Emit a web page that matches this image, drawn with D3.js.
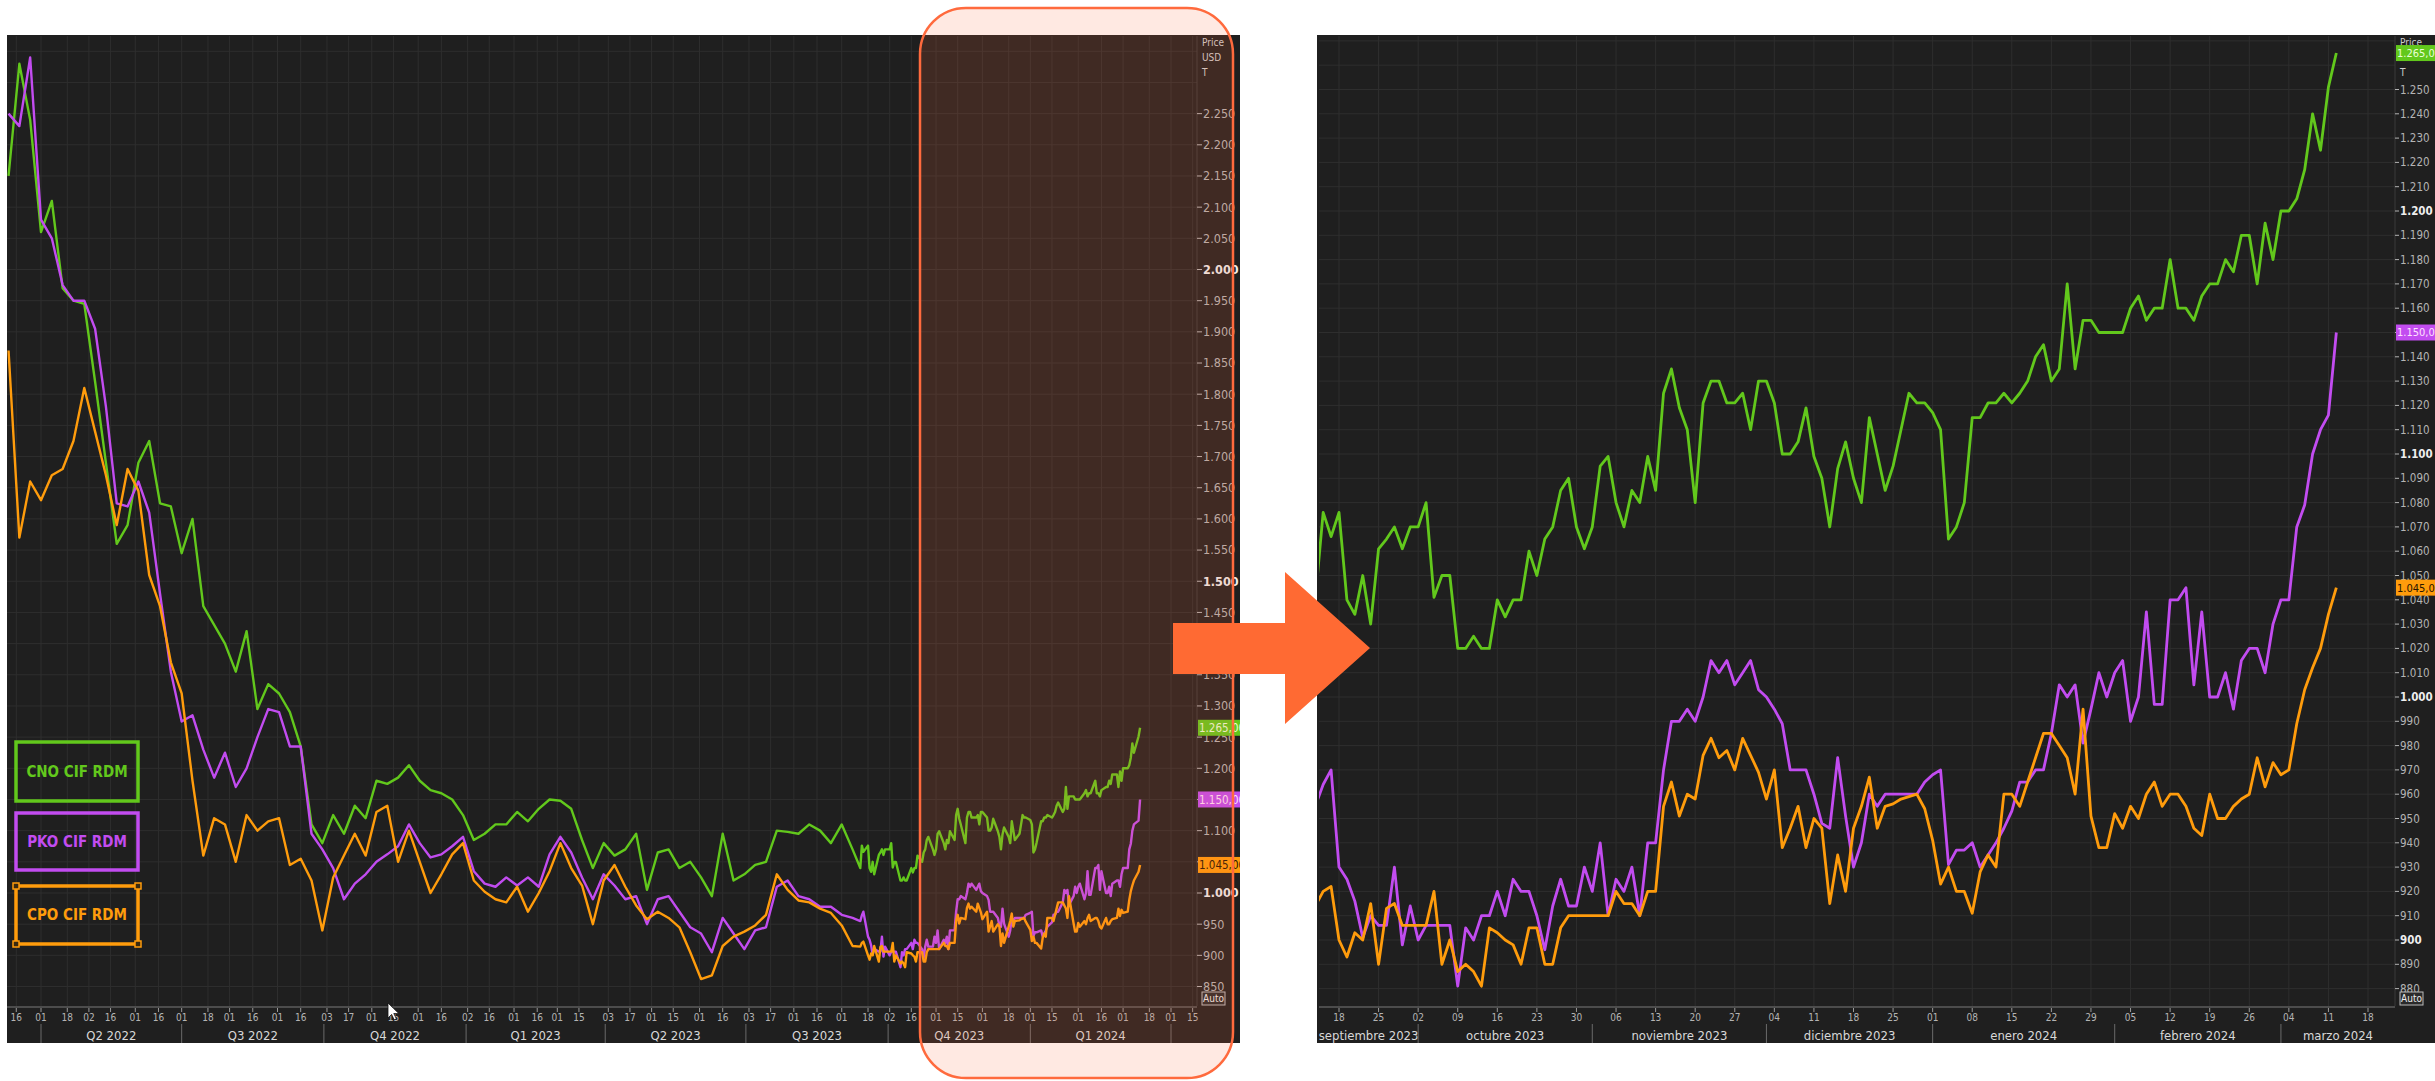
<!DOCTYPE html>
<html><head><meta charset="utf-8">
<script src="https://cdn.jsdelivr.net/npm/d3@7"></script>
<style>
html,body{margin:0;padding:0;background:#fff;}
svg{display:block;}
text{font-family:'DejaVu Sans Condensed','Liberation Sans Narrow','Roboto Condensed','DejaVu Sans',sans-serif;font-stretch:condensed;}
</style></head><body>
<svg id="chart" width="2435" height="1081"></svg>
<script>
// ---------------- DATA ----------------
const seriesNames = ["CNO CIF RDM", "PKO CIF RDM", "CPO CIF RDM"];
const seriesColors = ["#62c81c", "#c24cf0", "#ff9c0c"];

// weekly history (Fridays from 2022-03-11 to 2023-09-08), USD/T
const weeklyStart = "2022-03-11";
const cnoWeekly = [2150,2330,2240,2060,2110,1970,1950,1945,1820,1690,
  1560,1590,1690,1725,1625,1620,1545,1600,1460,1430,
  1400,1355,1420,1295,1335,1320,1290,1235,1110,1080,
  1125,1095,1140,1120,1180,1175,1185,1205,1180,1165,
  1160,1150,1125,1085,1095,1110,1110,1130,1115,1135,
  1150,1148,1135,1085,1040,1080,1060,
  1070,1095,1005,1065,1070,1040,1050,1025,995,1095,1020,1030,1045,1050,1100,1098,1095,1110,1100,1080,1110,1070];
const pkoWeekly = [2250,2230,2340,2080,2050,1975,1950,1950,1905,1780,
  1625,1620,1660,1610,1480,1355,1275,1285,1230,1185,
  1225,1170,1200,1250,1295,1290,1235,1235,1095,1070,
  1040,990,1015,1030,1050,1062,1075,1110,1080,1057,
  1062,1075,1090,1035,1015,1010,1025,1012,1025,1010,
  1062,1090,1065,1025,990,1030,1012,
  990,995,950,990,995,970,945,935,905,960,935,910,940,945,1010,1020,995,990,978,978,965,960];
const cpoWeekly = [1870,1570,1660,1630,1670,1680,1725,1810,1740,1670,
  1590,1680,1645,1510,1460,1370,1320,1180,1060,1120,
  1110,1050,1125,1100,1115,1120,1045,1055,1020,940,
  1025,1060,1095,1060,1130,1140,1050,1100,1050,1000,
  1030,1062,1080,1020,1002,990,985,1010,970,1000,
  1035,1080,1040,1012,950,1020,1045,
  1010,980,958,970,960,945,905,862,868,915,930,938,948,965,1030,1005,988,985,975,968,948,915];

// daily (weekdays from 2023-09-13 to 2024-03-12), USD/T
const dailyStart = "2023-09-13";
const cnoDaily = [1040,1076,1066,1076,1040,1034,1050,1030,1061,1065,
  1070,1061,1070,1070,1080,1041,1050,1050,1020,1020,
  1025,1020,1020,1040,1033,1040,1040,1060,1050,1065,
  1070,1085,1090,1070,1061,1070,1095,1099,1080,1070,
  1085,1080,1099,1085,1125,1135,1119,1110,1080,1121,
  1130,1130,1121,1121,1125,1110,1130,1130,1121,1100,
  1100,1105,1119,1099,1090,1070,1094,1105,1090,1080,
  1115,1100,1085,1095,1110,1125,1121,1121,1117,1110,
  1065,1070,1080,1115,1115,1121,1121,1125,1121,1125,
  1130,1140,1145,1130,1135,1170,1135,1155,1155,1150,
  1150,1150,1150,1160,1165,1155,1160,1160,1180,1160,
  1160,1155,1165,1170,1170,1180,1175,1190,1190,1170,
  1195,1180,1200,1200,1205,1217,1240,1225,1251,1265];
const pkoDaily = [955,964,970,930,925,916,901,910,906,906,
  930,898,914,900,906,906,906,906,881,905,
  900,910,910,920,910,925,920,920,910,896,
  914,925,914,914,930,920,940,910,925,920,
  930,910,940,940,970,990,990,995,990,1000,
  1015,1010,1015,1005,1010,1015,1003,1000,995,989,
  970,970,970,960,948,946,975,951,930,940,
  960,955,960,960,960,960,960,965,968,970,
  931,937,937,940,930,935,940,946,953,965,
  965,970,970,985,1005,1000,1005,981,995,1010,
  1000,1010,1015,990,1000,1035,997,997,1040,1040,
  1045,1005,1035,1000,1000,1010,995,1015,1020,1020,
  1010,1030,1040,1040,1070,1079,1100,1110,1116,1150];
const cpoDaily = [914,920,922,900,893,903,900,915,890,913,
  915,906,906,906,906,920,890,900,887,890,
  887,881,905,903,900,898,890,905,905,890,
  890,905,910,910,910,910,910,910,920,915,
  915,910,920,920,955,965,951,960,958,976,
  983,975,978,970,983,976,969,958,970,938,
  946,955,938,950,946,915,935,920,946,955,
  967,946,955,956,958,959,960,954,941,923,
  930,920,920,911,928,935,930,960,960,955,
  965,975,985,985,980,975,960,995,951,938,
  938,952,946,955,950,960,965,955,960,960,
  955,946,943,960,950,950,955,958,960,975,
  963,973,968,970,989,1003,1012,1020,1034,1045];

// axes
const leftYTicks = [850,900,950,1000,1050,1100,1150,1200,1250,1300,1350,1400,1450,1500,1550,1600,1650,1700,1750,1800,1850,1900,1950,2000,2050,2100,2150,2200,2250];
const leftYBold = [1000,1500,2000];
const rightYTicks = [880,890,900,910,920,930,940,950,960,970,980,990,1000,1010,1020,1030,1040,1050,1060,1070,1080,1090,1100,1110,1120,1130,1140,1150,1160,1170,1180,1190,1200,1210,1220,1230,1240,1250];
const rightYBold = [900,1000,1100,1200];
const leftTickDates = ["2022-03-16","2022-04-01","2022-04-18","2022-05-02","2022-05-16","2022-06-01","2022-06-16","2022-07-01","2022-07-18","2022-08-01","2022-08-16","2022-09-01","2022-09-16","2022-10-03","2022-10-17","2022-11-01","2022-11-15","2022-12-01","2022-12-16","2023-01-02","2023-01-16","2023-02-01","2023-02-16","2023-03-01","2023-03-15","2023-04-03","2023-04-17","2023-05-01","2023-05-15","2023-06-01","2023-06-16","2023-07-03","2023-07-17","2023-08-01","2023-08-16","2023-09-01","2023-09-18","2023-10-02","2023-10-16","2023-11-01","2023-11-15","2023-12-01","2023-12-18","2024-01-01","2024-01-15","2024-02-01","2024-02-16","2024-03-01","2024-03-18","2024-04-01","2024-04-15"];
const quarterStarts = ["2022-01-01","2022-04-01","2022-07-01","2022-10-01","2023-01-01","2023-04-01","2023-07-01","2023-10-01","2024-01-01","2024-04-01","2024-07-01"];
const quarterLabels = ["Q1 2022","Q2 2022","Q3 2022","Q4 2022","Q1 2023","Q2 2023","Q3 2023","Q4 2023","Q1 2024","Q2 2024"];
const rightTickDates = ["2023-09-18","2023-09-25","2023-10-02","2023-10-09","2023-10-16","2023-10-23","2023-10-30","2023-11-06","2023-11-13","2023-11-20","2023-11-27","2023-12-04","2023-12-11","2023-12-18","2023-12-25","2024-01-01","2024-01-08","2024-01-15","2024-01-22","2024-01-29","2024-02-05","2024-02-12","2024-02-19","2024-02-26","2024-03-04","2024-03-11","2024-03-18"];
const monthStarts = ["2023-09-01","2023-10-01","2023-11-01","2023-12-01","2024-01-01","2024-02-01","2024-03-01","2024-04-01"];
const monthLabels = ["septiembre 2023","octubre 2023","noviembre 2023","diciembre 2023","enero 2024","febrero 2024","marzo 2024"];

// ---------------- HELPERS ----------------
const parse = d3.utcParse("%Y-%m-%d");
const loc = d3.formatLocale({decimal: ",", thousands: ".", grouping: [3], currency: ["", ""]});
const fInt = loc.format(",.0f");
const fTag = loc.format(",.2f");
const fDay = d3.utcFormat("%d");
const isWd = d => { const w = d.getUTCDay(); return w !== 0 && w !== 6; };
const dStart = parse(dailyStart);
function wIdx(d) {
  let n = 0;
  if (d >= dStart) { for (let t = dStart; t < d; t = d3.utcDay.offset(t, 1)) if (isWd(t)) n++; }
  else { for (let t = d; t < dStart; t = d3.utcDay.offset(t, 1)) if (isWd(t)) n--; }
  return n;
}
const dailyDates = [];
for (let t = dStart; dailyDates.length < cnoDaily.length; t = d3.utcDay.offset(t, 1)) if (isWd(t)) dailyDates.push(t);
const weeklyDates = cnoWeekly.map((_, i) => d3.utcDay.offset(parse(weeklyStart), 7 * i));

const weekly = [cnoWeekly, pkoWeekly, cpoWeekly];
const daily = [cnoDaily, pkoDaily, cpoDaily];

const svg = d3.select("#chart");
const PANEL = "#1f1f1f", GRID = "#2e2e2e", LBL = "#b4b4b4";

// ================= LEFT CHART =================
const L = {x0: 7, x1: 1197, y0: 36, y1: 1006, panelR: 1240, top: 35, bot: 1043};
const xL = d3.scaleUtc().domain([parse("2022-04-01"), parse("2024-04-01")]).range([41, 1171]);
const yL = d3.scaleLinear().domain([1000, 2000]).range([893, 269.5]);

const gL = svg.append("g");
gL.append("clipPath").attr("id", "clipLPanel").append("rect")
  .attr("x", L.x0).attr("y", L.top).attr("width", L.panelR - L.x0).attr("height", L.bot - L.top);
gL.append("clipPath").attr("id", "clipLPlot").append("rect")
  .attr("x", L.x0).attr("y", L.y0).attr("width", L.x1 - L.x0).attr("height", L.y1 - L.y0);
const gLp = gL.append("g").attr("clip-path", "url(#clipLPanel)");
gLp.append("rect").attr("x", L.x0).attr("y", L.top).attr("width", L.panelR - L.x0).attr("height", L.bot - L.top).attr("fill", PANEL);

// grid
const gLgrid = gLp.append("g").attr("clip-path", "url(#clipLPlot)");
gLgrid.selectAll("line.h").data(d3.range(800, 2400, 50)).join("line")
  .attr("x1", L.x0).attr("x2", L.x1).attr("y1", d => yL(d)).attr("y2", d => yL(d))
  .attr("stroke", GRID).attr("stroke-width", 1);
gLgrid.selectAll("line.v").data(leftTickDates).join("line")
  .attr("x1", d => xL(parse(d))).attr("x2", d => xL(parse(d))).attr("y1", L.y0).attr("y2", L.y1)
  .attr("stroke", GRID).attr("stroke-width", 1);

// lines
const lineL = d3.line().x(d => xL(d[0])).y(d => yL(d[1]));
const gLines = gLp.append("g").attr("clip-path", "url(#clipLPlot)");
[0, 1, 2].forEach(s => {
  const pts = weeklyDates.map((d, i) => [d, weekly[s][i]]).concat(dailyDates.map((d, i) => [d, daily[s][i]]));
  gLines.append("path").datum(pts).attr("d", lineL).attr("fill", "none")
    .attr("stroke", seriesColors[s]).attr("stroke-width", 2.4).attr("stroke-linejoin", "round");
});

// x axis
gLp.append("line").attr("x1", L.x0).attr("x2", L.x1).attr("y1", L.y1 + 1).attr("y2", L.y1 + 1).attr("stroke", "#4c4c4c").attr("stroke-width", 2);
gLp.selectAll("line.tk").data(leftTickDates).join("line")
  .attr("x1", d => xL(parse(d))).attr("x2", d => xL(parse(d))).attr("y1", L.y1 + 2).attr("y2", L.y1 + 6)
  .attr("stroke", "#9a9a9a");
gLp.selectAll("text.tk").data(leftTickDates).join("text")
  .attr("x", d => xL(parse(d))).attr("y", 1021).attr("text-anchor", "middle")
  .attr("font-size", 10).attr("fill", LBL).text(d => fDay(parse(d)));
quarterStarts.forEach((q, i) => {
  const xs = xL(parse(q));
  if (xs > L.x0 && xs < L.x1) gLp.append("line").attr("x1", xs).attr("x2", xs).attr("y1", 1024).attr("y2", L.bot).attr("stroke", "#6a6a6a");
  if (i < quarterLabels.length) {
    const a = Math.max(L.x0, xs), b = Math.min(L.x1, xL(parse(quarterStarts[i + 1])));
    if (b - a > 100) gLp.append("text").attr("x", (a + b) / 2).attr("y", 1040).attr("text-anchor", "middle")
      .attr("font-size", 13).attr("fill", "#d8d8d8").text(quarterLabels[i]);
  }
});

// y axis
gLp.append("line").attr("x1", L.x1).attr("x2", L.x1).attr("y1", L.y0).attr("y2", L.y1).attr("stroke", "#3a3a3a");
leftYTicks.forEach(v => {
  const y = yL(v), b = leftYBold.includes(v);
  gLp.append("line").attr("x1", L.x1).attr("x2", L.x1 + 5).attr("y1", y).attr("y2", y).attr("stroke", LBL);
  gLp.append("text").attr("x", L.x1 + 6).attr("y", y).attr("dy", "0.35em").attr("font-size", 12.5)
    .attr("font-weight", b ? "bold" : "normal").attr("fill", b ? "#eeeeee" : LBL).text(fInt(v));
});
["Price", "USD", "T"].forEach((t, i) => gLp.append("text").attr("x", L.x1 + 5).attr("y", 46 + 15 * i)
  .attr("font-size", 10).attr("fill", "#cfcfcf").text(t));
gLp.append("rect").attr("x", 1202).attr("y", 992).attr("width", 23).attr("height", 13).attr("fill", "#2a2a2a").attr("stroke", "#bbb");
gLp.append("text").attr("x", 1213.5).attr("y", 1002).attr("text-anchor", "middle").attr("font-size", 10).attr("fill", "#eee").text("Auto");

// last value tags
const tagText = ["#e9ffd6", "#ffe0ff", "#2a1600"];
[0, 1, 2].forEach(s => {
  const v = daily[s][daily[s].length - 1], y = yL(v);
  gLp.append("rect").attr("x", L.x1 + 1).attr("y", y - 8).attr("width", 50).attr("height", 16).attr("fill", seriesColors[s]);
  gLp.append("text").attr("x", L.x1 + 2).attr("y", y).attr("dy", "0.36em").attr("font-size", 11.5)
    .attr("fill", tagText[s]).text(fTag(v));
});

// legend boxes
const legBoxes = [[16, 742, 122, 59], [16, 813, 122, 57], [16, 886, 122, 58]];
legBoxes.forEach((b, s) => {
  gLp.append("rect").attr("x", b[0]).attr("y", b[1]).attr("width", b[2]).attr("height", b[3])
    .attr("fill", "none").attr("stroke", seriesColors[s]).attr("stroke-width", 3.5);
  gLp.append("text").attr("x", b[0] + b[2] / 2).attr("y", b[1] + b[3] / 2).attr("dy", "0.36em")
    .attr("text-anchor", "middle").attr("font-size", 15).attr("font-weight", "bold")
    .attr("fill", seriesColors[s]).text(seriesNames[s]);
});
{
  const b = legBoxes[2];
  [[b[0], b[1]], [b[0] + b[2], b[1]], [b[0], b[1] + b[3]], [b[0] + b[2], b[1] + b[3]]].forEach(p =>
    gLp.append("rect").attr("x", p[0] - 3).attr("y", p[1] - 3).attr("width", 6).attr("height", 6)
      .attr("fill", "#3a2a10").attr("stroke", seriesColors[2]).attr("stroke-width", 1.5));
}
// mouse cursor
gLp.append("path").attr("d", "M388,1003 l0,15 l3.6,-3.6 l2.6,5.4 l2.2,-1 l-2.6,-5.3 l5,0 z")
  .attr("fill", "#fff").attr("stroke", "#111").attr("stroke-width", 0.8);

// ================= RIGHT CHART =================
const R = {x0: 1319, x1: 2395, y0: 36, y1: 1006, panelL: 1317, panelR: 2435, top: 35, bot: 1043};
const xR = d3.scaleLinear().domain([3, 133]).range([1339, 2368]);
const yR = d3.scaleLinear().domain([1000, 1100]).range([697, 454]);

const gR = svg.append("g");
gR.append("clipPath").attr("id", "clipRPanel").append("rect")
  .attr("x", R.panelL).attr("y", R.top).attr("width", R.panelR - R.panelL).attr("height", R.bot - R.top);
gR.append("clipPath").attr("id", "clipRPlot").append("rect")
  .attr("x", R.x0).attr("y", R.y0).attr("width", R.x1 - R.x0).attr("height", R.y1 - R.y0);
const gRp = gR.append("g").attr("clip-path", "url(#clipRPanel)");
gRp.append("rect").attr("x", R.panelL).attr("y", R.top).attr("width", R.panelR - R.panelL).attr("height", R.bot - R.top).attr("fill", PANEL);

const gRgrid = gRp.append("g").attr("clip-path", "url(#clipRPlot)");
gRgrid.selectAll("line.h").data(d3.range(860, 1290, 10)).join("line")
  .attr("x1", R.x0).attr("x2", R.x1).attr("y1", d => yR(d)).attr("y2", d => yR(d))
  .attr("stroke", GRID).attr("stroke-width", 1);
gRgrid.selectAll("line.v").data(rightTickDates).join("line")
  .attr("x1", d => xR(wIdx(parse(d)))).attr("x2", d => xR(wIdx(parse(d)))).attr("y1", R.y0).attr("y2", R.y1)
  .attr("stroke", GRID).attr("stroke-width", 1);

const lineR = d3.line().x(d => xR(d[0])).y(d => yR(d[1]));
const gRlines = gRp.append("g").attr("clip-path", "url(#clipRPlot)");
[0, 1, 2].forEach(s => {
  gRlines.append("path").datum(daily[s].map((v, i) => [i, v])).attr("d", lineR).attr("fill", "none")
    .attr("stroke", seriesColors[s]).attr("stroke-width", 2.8).attr("stroke-linejoin", "round");
});

// x axis
gRp.append("line").attr("x1", R.x0).attr("x2", R.x1).attr("y1", R.y1 + 1).attr("y2", R.y1 + 1).attr("stroke", "#4c4c4c").attr("stroke-width", 2);
rightTickDates.forEach(d => {
  const x = xR(wIdx(parse(d)));
  gRp.append("line").attr("x1", x).attr("x2", x).attr("y1", R.y1 + 2).attr("y2", R.y1 + 6).attr("stroke", "#9a9a9a");
  gRp.append("text").attr("x", x).attr("y", 1021).attr("text-anchor", "middle").attr("font-size", 10).attr("fill", LBL).text(fDay(parse(d)));
});
monthLabels.forEach((m, i) => {
  const xs = xR(wIdx(parse(monthStarts[i]))), xe = xR(wIdx(parse(monthStarts[i + 1])));
  if (xs > R.x0 && xs < R.x1) gRp.append("line").attr("x1", xs).attr("x2", xs).attr("y1", 1024).attr("y2", R.bot).attr("stroke", "#6a6a6a");
  const a = Math.max(R.x0, xs), b = Math.min(R.x1, xe);
  gRp.append("text").attr("x", (a + b) / 2).attr("y", 1040).attr("text-anchor", "middle")
    .attr("font-size", 13).attr("fill", "#d8d8d8").text(m);
});

// y axis
gRp.append("line").attr("x1", R.x1).attr("x2", R.x1).attr("y1", R.y0).attr("y2", R.y1).attr("stroke", "#3a3a3a");
["Price", "USD", "T"].forEach((t, i) => gRp.append("text").attr("x", R.x1 + 5).attr("y", 46 + 15 * i)
  .attr("font-size", 10).attr("fill", "#cfcfcf").text(t));
rightYTicks.forEach(v => {
  const y = yR(v), b = rightYBold.includes(v);
  gRp.append("line").attr("x1", R.x1).attr("x2", R.x1 + 4).attr("y1", y).attr("y2", y).attr("stroke", LBL);
  gRp.append("text").attr("x", R.x1 + 5).attr("y", y).attr("dy", "0.35em").attr("font-size", 11.5)
    .attr("font-weight", b ? "bold" : "normal").attr("fill", b ? "#eeeeee" : LBL).text(fInt(v));
});
gRp.append("rect").attr("x", 2400).attr("y", 992).attr("width", 23).attr("height", 13).attr("fill", "#2a2a2a").attr("stroke", "#bbb");
gRp.append("text").attr("x", 2411.5).attr("y", 1002).attr("text-anchor", "middle").attr("font-size", 10).attr("fill", "#eee").text("Auto");
[0, 1, 2].forEach(s => {
  const v = daily[s][daily[s].length - 1], y = yR(v);
  gRp.append("rect").attr("x", R.x1 + 1).attr("y", y - 8).attr("width", 50).attr("height", 16).attr("fill", seriesColors[s]);
  gRp.append("text").attr("x", R.x1 + 2).attr("y", y).attr("dy", "0.36em").attr("font-size", 11)
    .attr("fill", tagText[s]).text(fTag(v));
});

// ================= ANNOTATIONS =================
svg.append("rect").attr("x", 920).attr("y", 8).attr("width", 313).attr("height", 1070).attr("rx", 46).attr("ry", 46)
  .attr("fill", "rgba(255,106,61,0.15)").attr("stroke", "#ff6a3d").attr("stroke-width", 2.5);
svg.append("path")
  .attr("d", "M1173,623 L1285,623 L1285,572 L1370,648 L1285,724 L1285,674 L1173,674 Z")
  .attr("fill", "#ff6a33");
</script>
</body></html>
